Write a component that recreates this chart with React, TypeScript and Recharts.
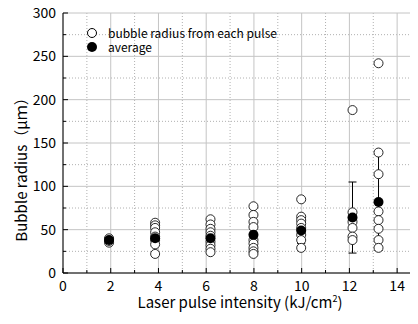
import {
  ScatterChart,
  Scatter,
  XAxis,
  YAxis,
  CartesianGrid,
  ErrorBar,
  Legend,
} from 'recharts'

// laser pulse intensity of each group (kJ/cm2)
const intensities = [1.93, 3.86, 6.18, 7.98, 9.98, 12.13, 13.22]

// bubble radius measured from each pulse (um), one list per intensity
const pulseRadii = [
  [35, 37, 39, 40],
  [58, 55, 52, 47, 42, 38, 33, 22],
  [62, 56, 51, 47, 43, 36, 32, 28, 24],
  [77, 67, 59, 53, 38, 34, 29, 25, 22],
  [85, 65, 61, 57, 52, 44, 38, 29],
  [188, 70, 59, 52, 42, 38],
  [242, 139, 114, 71, 61, 51, 38, 29],
]

const avgRadius = [38, 40, 40, 44, 49, 64, 82]
const avgError = [2, 8, 9, 14, 15, 41, 56]

const xMajor = [0, 2, 4, 6, 8, 10, 12, 14]
const xMinor = [1, 3, 5, 7, 9, 11, 13, 15]
const yMajor = [0, 50, 100, 150, 200, 250, 300]
const yMinor = [25, 75, 125, 175, 225, 275]

const xTicks = [...xMajor, ...xMinor].sort((a, b) => a - b)
const yTicks = [...yMajor, ...yMinor].sort((a, b) => a - b)

const FONT = '"Noto Sans CJK JP", "Noto Sans", sans-serif'

const pulseData = intensities.flatMap((x, i) =>
  pulseRadii[i].map((r) => ({ x, r }))
)
const avgData = intensities.map((x, i) => ({
  x,
  r: avgRadius[i],
  err: avgError[i],
}))

// tick marks point inward, labels only on major ticks
const tickLen = (v: number, majors: number[]) => (majors.includes(v) ? 5 : 3)

const BottomTick = (p: any) => {
  const v = p.payload.value
  const len = tickLen(v, xMajor)
  return (
    <g>
      <line x1={p.x} x2={p.x} y1={p.y} y2={p.y - len} stroke="#000" />
      {xMajor.includes(v) && (
        <text x={p.x} y={p.y + 17.5} textAnchor="middle" fontSize={14} fontFamily={FONT} fill="#000">
          {v}
        </text>
      )}
    </g>
  )
}

const TopTick = (p: any) => {
  const len = tickLen(p.payload.value, xMajor)
  return <line x1={p.x} x2={p.x} y1={p.y} y2={p.y + len} stroke="#000" />
}

const LeftTick = (p: any) => {
  const v = p.payload.value
  const len = tickLen(v, yMajor)
  return (
    <g>
      <line x1={p.x} x2={p.x + len} y1={p.y} y2={p.y} stroke="#000" />
      {yMajor.includes(v) && (
        <text x={p.x - 7} y={p.y + 5} textAnchor="end" fontSize={14} fontFamily={FONT} fill="#000">
          {v}
        </text>
      )}
    </g>
  )
}

const RightTick = (p: any) => {
  const len = tickLen(p.payload.value, yMajor)
  return <line x1={p.x} x2={p.x - len} y1={p.y} y2={p.y} stroke="#000" />
}

const XTitle = (p: any) => {
  const vb = p.viewBox
  return (
    <text x={vb.x + vb.width / 2 - 2} y={vb.y + 35} textAnchor="middle" fontSize={15} fontFamily={FONT} fill="#000">
      Laser pulse intensity (kJ/cm
      <tspan dy={-6} fontSize={9}>2</tspan>
      <tspan dy={6}>)</tspan>
    </text>
  )
}

const YTitle = () => (
  <text
    x={20}
    y={166}
    transform="rotate(-90 20 166)"
    textAnchor="middle"
    dominantBaseline="central"
    fontSize={15}
    fontFamily={FONT}
    fill="#000"
  >
    Bubble radius（μｍ）
  </text>
)

const LegendBox = () => (
  <div style={{ fontFamily: FONT, fontSize: 12, lineHeight: '14px', color: '#000' }}>
    <div style={{ display: 'flex', alignItems: 'center' }}>
      <svg width={12} height={12} style={{ marginRight: 10 }}>
        <circle cx={6} cy={6} r={4.5} fill="#fff" stroke="#000" />
      </svg>
      bubble radius from each pulse
    </div>
    <div style={{ display: 'flex', alignItems: 'center' }}>
      <svg width={12} height={12} style={{ marginRight: 10 }}>
        <circle cx={6} cy={6} r={5} fill="#000" />
      </svg>
      average
    </div>
  </div>
)

export default function App() {
  return (
    <div style={{ margin: -8, width: 418, height: 324, overflow: 'hidden', background: '#fff' }}>
      <ScatterChart width={440} height={324} margin={{ top: 13, right: 19, bottom: 0, left: 0 }}>
        <CartesianGrid
          verticalValues={xMinor}
          horizontalValues={yMinor}
          stroke="#b0b0b0"
          strokeDasharray="1 2"
        />
        <CartesianGrid verticalValues={xMajor} horizontalValues={yMajor} stroke="#c4c4c4" />
        <XAxis
          type="number"
          dataKey="x"
          domain={[0, 15]}
          ticks={xTicks}
          interval={0}
          height={51}
          stroke="#000"
          tickLine={false}
          tickSize={0}
          tickMargin={0}
          tick={<BottomTick />}
          label={<XTitle />}
        />
        <XAxis
          xAxisId="top"
          orientation="top"
          type="number"
          domain={[0, 15]}
          ticks={xTicks}
          interval={0}
          height={0}
          stroke="#000"
          tickLine={false}
          tickSize={0}
          tickMargin={0}
          tick={<TopTick />}
        />
        <YAxis
          type="number"
          dataKey="r"
          domain={[0, 300]}
          ticks={yTicks}
          interval={0}
          width={63}
          stroke="#000"
          tickLine={false}
          tickSize={0}
          tickMargin={0}
          tick={<LeftTick />}
          label={<YTitle />}
        />
        <YAxis
          yAxisId="right"
          orientation="right"
          type="number"
          domain={[0, 300]}
          ticks={yTicks}
          interval={0}
          width={0}
          stroke="#000"
          tickLine={false}
          tickSize={0}
          tickMargin={0}
          tick={<RightTick />}
        />
        <Legend
          layout="vertical"
          align="center"
          verticalAlign="middle"
          wrapperStyle={{ left: 86, top: 26, width: 220 }}
          content={<LegendBox />}
        />
        <Scatter
          name="bubble radius from each pulse"
          data={pulseData}
          isAnimationActive={false}
          shape={(p: any) => (
            <circle cx={p.cx} cy={p.cy} r={4.5} fill="#fff" stroke="#111" strokeWidth={0.9} />
          )}
        />
        <Scatter
          name="average"
          data={avgData}
          isAnimationActive={false}
          shape={(p: any) => <circle cx={p.cx} cy={p.cy} r={5} fill="#000" />}
        >
          <ErrorBar dataKey="err" direction="y" width={4} stroke="#000" strokeWidth={1} />
        </Scatter>
      </ScatterChart>
    </div>
  )
}
